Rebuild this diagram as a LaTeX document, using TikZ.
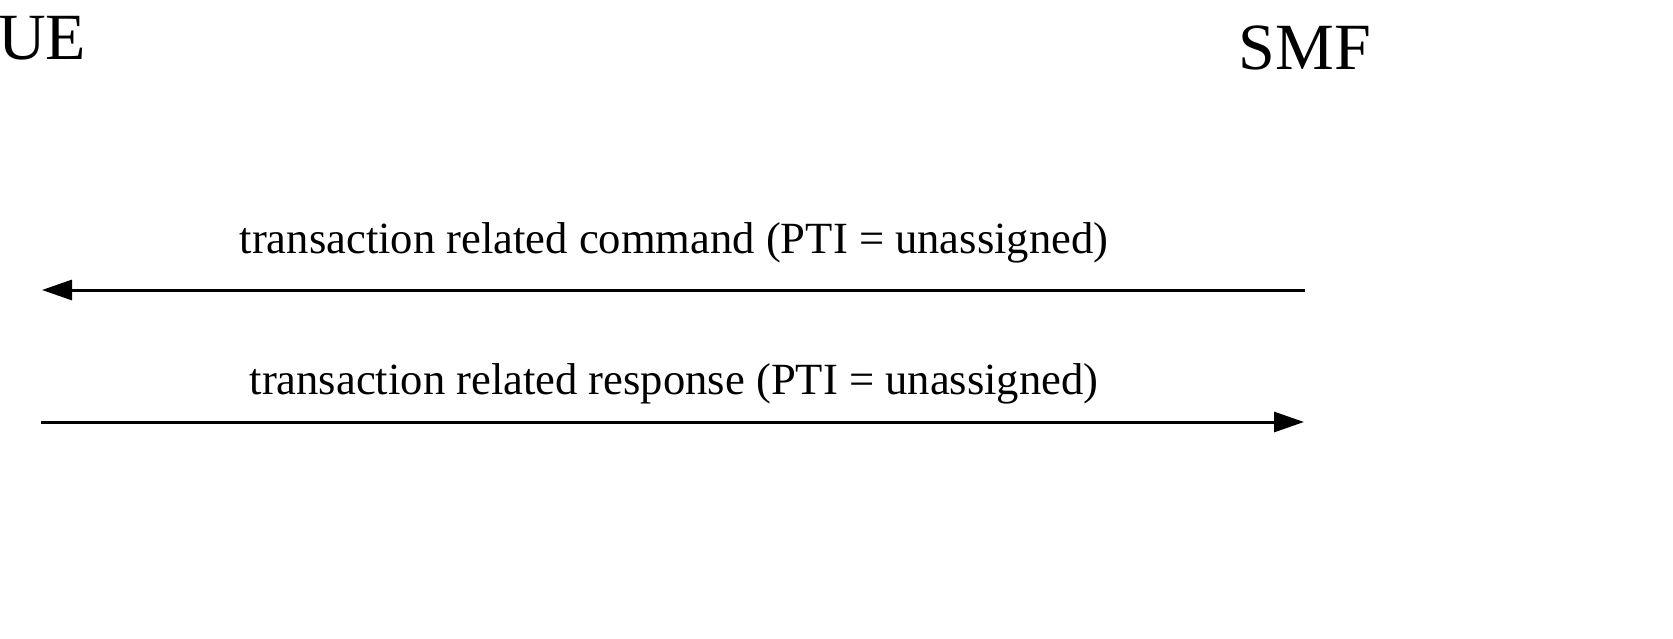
\documentclass[tikz,border=0pt]{standalone}
\usepackage{fontspec}
\setmainfont{Liberation Serif}
\usetikzlibrary{arrows.meta}
\begin{document}
\begin{tikzpicture}[x=1pt,y=-1pt,
  entity/.style={inner sep=0pt, anchor=base, font=\fontsize{66}{78}\selectfont},
  msglabel/.style={inner sep=0pt, anchor=base, font=\fontsize{44.6}{53}\selectfont},
  msg/.style={line width=3pt, -{Triangle[length=30pt,width=20pt]}}]
\useasboundingbox (0,0) rectangle (1673,639);
\fill[white] (0,0) rectangle (1673,639);
\node[entity] (ue) at (42,60) {UE};
\node[entity] (smf) at (1305,70) {SMF};
\coordinate (ue1) at (42,290);
\coordinate (smf1) at (1305,290);
\coordinate (ue2) at (41,422);
\coordinate (smf2) at (1304,422);
\draw[msg] (smf1) -- (ue1);
\node[msglabel] (l1) at (674,253) {transaction related command (PTI = unassigned)};
\draw[msg] (ue2) -- (smf2);
\node[msglabel] (l2) at (674,394) {transaction related response (PTI = unassigned)};
\end{tikzpicture}
\end{document}
